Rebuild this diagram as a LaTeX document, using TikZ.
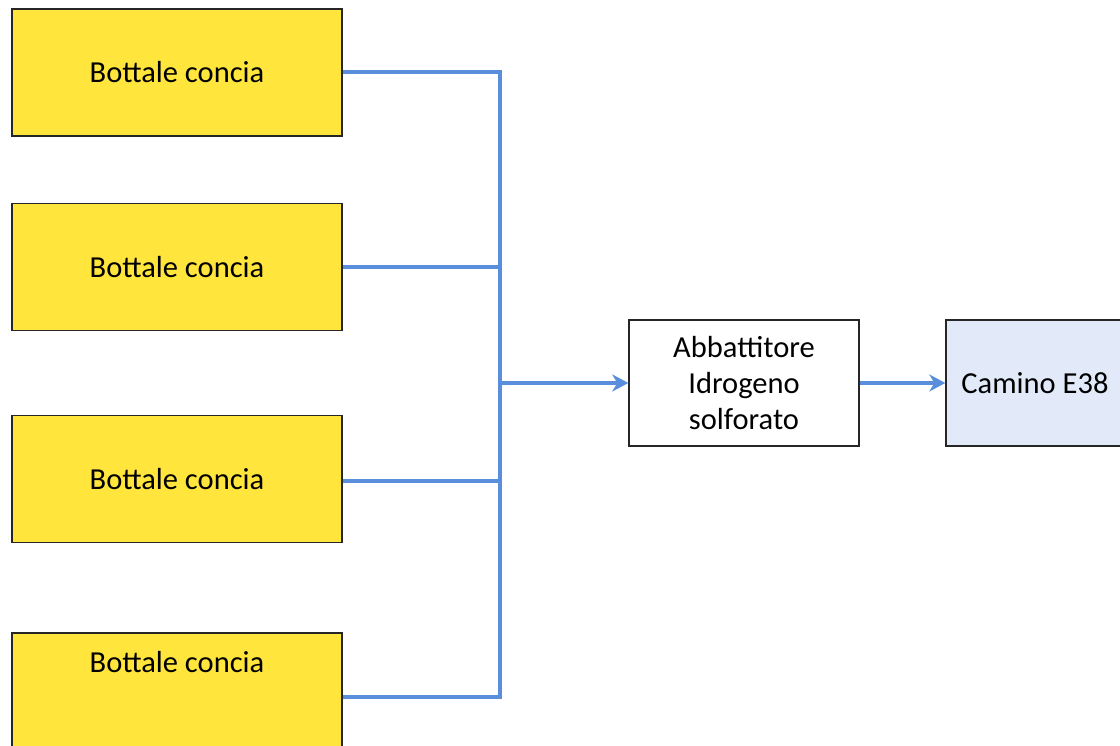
\documentclass[tikz,border=0pt]{standalone}
\usepackage{fontspec}
\setmainfont{Carlito}
\usetikzlibrary{arrows.meta}
\definecolor{tankyellow}{RGB}{255,229,60}
\definecolor{flowblue}{RGB}{88,142,220}
\definecolor{stackblue}{RGB}{226,234,250}
\begin{document}
\begin{tikzpicture}[x=1pt,y=-1pt,
  box/.style={draw=black!85,line width=1.4pt,rectangle,inner sep=0pt},
  label font/.style={font=\fontsize{30.5}{36}\selectfont},
  bottale/.style={box,fill=tankyellow,minimum width=330pt,minimum height=127pt,label font},
  unit/.style={box,fill=white,minimum width=230pt,minimum height=126pt,align=center,label font},
  flow/.style={draw=flowblue,line width=3.5pt},
  flowarrow/.style={flow,-{Stealth[length=16pt,width=17pt,inset=5pt]}}]
  \useasboundingbox (0,0) rectangle (1120,746);
  \clip (0,0) rectangle (1120,746);
  \fill[white] (0,0) rectangle (1120,746);

  % four tanning drums
  \node[bottale] (b1) at (177,72.5) {Bottale concia};
  \node[bottale] (b2) at (177,267) {Bottale concia};
  \node[bottale] (b3) at (177,479) {Bottale concia};
  \node[bottale] (b4) at (177,696.5) {};
  \node[label font] (b4t) at (177,662) {Bottale concia};

  % scrubber and stack
  \node[unit] (abb) at (744,383) {Abbattitore\\Idrogeno\\solforato};
  \node[unit,fill=stackblue,minimum width=178pt] (cam) at (1035,383) {Camino E38};

  % collector line
  \coordinate (top) at (500,72);
  \coordinate (bot) at (500,697);
  \coordinate (mid) at (500,383);
  \draw[flow] (b1.east |- top) -- (top) -- (bot) -- (b4.east |- bot);
  \draw[flow] (b2.east) -- (b2.east -| top);
  \draw[flow] (b3.east |- 0,481) -- (500,481);

  % flow to treatment and stack
  \draw[flowarrow] (mid) -- (abb.west);
  \draw[flowarrow] (abb.east) -- (cam.west);
\end{tikzpicture}
\end{document}
